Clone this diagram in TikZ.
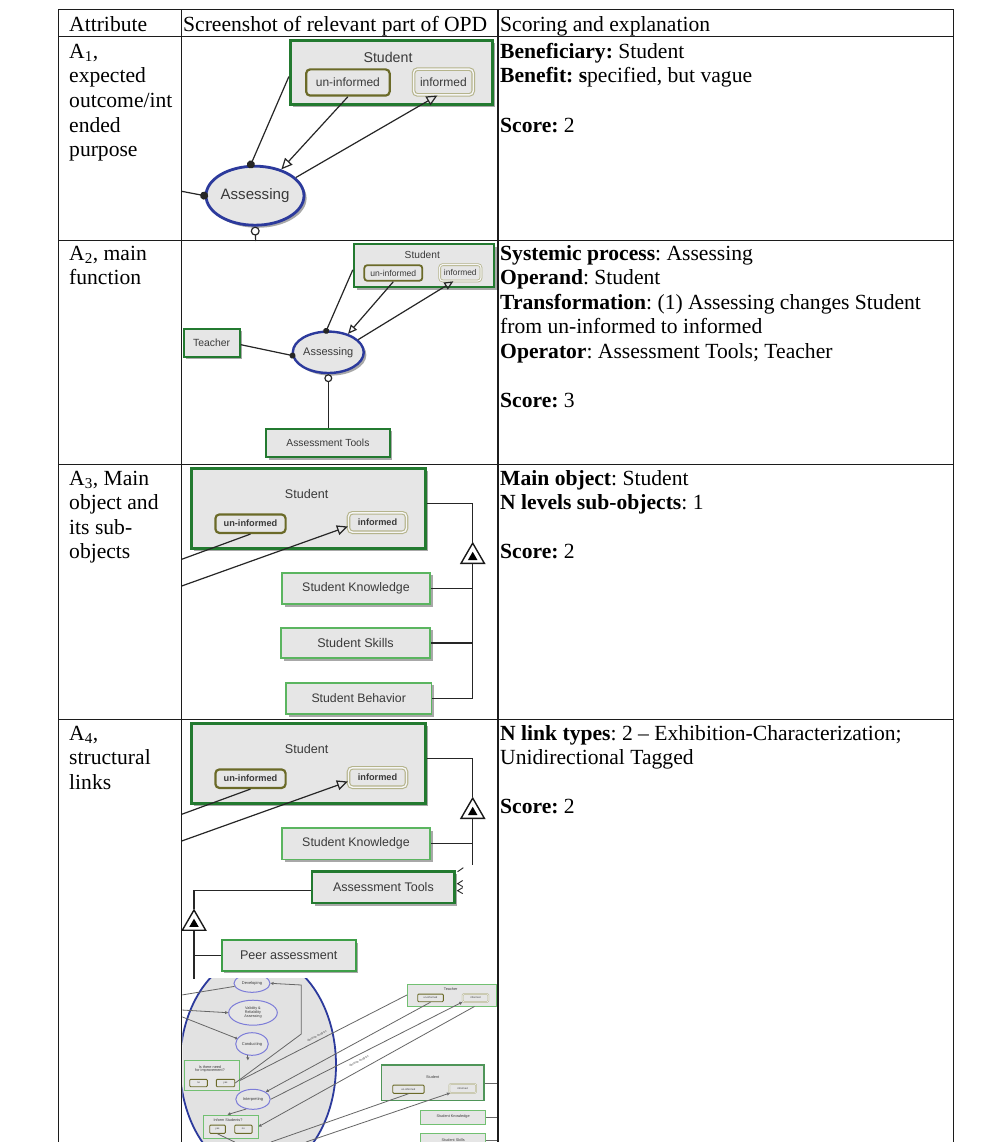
\documentclass[tikz,border=0pt]{standalone}
\usepackage{fontspec}
\setmainfont{Liberation Serif}
\newfontfamily\opdfont{Liberation Sans}
\usetikzlibrary{arrows.meta,shapes.geometric,shadows,calc}
\frenchspacing

\definecolor{objgreen}{HTML}{237A30}
\definecolor{midgreen}{HTML}{3E9E48}
\definecolor{subgreen}{HTML}{5BB560}
\definecolor{minigreen}{HTML}{72C072}
\definecolor{boxgray}{HTML}{E6E6E6}
\definecolor{bigfill}{HTML}{E2E2E2}
\definecolor{procblue}{HTML}{2C3A9C}
\definecolor{miniblue}{HTML}{7C7CD8}
\definecolor{stdark}{HTML}{6B6A28}
\definecolor{stlight}{HTML}{B5B48C}
\definecolor{inkgray}{HTML}{3A3A3A}
\definecolor{rulecol}{HTML}{1C1C1C}

\newcommand\osz[1]{\opdfont\fontsize{#1}{#1}\selectfont}

\tikzset{
  cell/.style={anchor=base west, inner sep=0pt, font=\fontsize{21.6}{24.6}\selectfont},
  rulefmt/.style={draw=rulecol, line width=1.2pt},
  shade box/.style={drop shadow={shadow xshift=2.6pt, shadow yshift=-2.6pt, fill=black!45, opacity=0.75}},
  obj/.style={rectangle, draw=objgreen, line width=2.6pt, fill=boxgray, inner sep=0pt, text=inkgray, shade box},
  midobj/.style={obj, draw=midgreen, line width=2.2pt},
  subobj/.style={obj, draw=subgreen, line width=1.8pt},
  proc/.style={ellipse, draw=procblue, line width=2.8pt, fill=boxgray, inner sep=0pt, text=inkgray, shade box},
  stun/.style={rectangle, rounded corners=4pt, draw=stdark, line width=2.2pt, fill=boxgray, inner sep=0pt, text=inkgray},
  stin/.style={rectangle, rounded corners=4pt, draw=stlight, double=white!60!boxgray, double distance=1.4pt, line width=1.1pt, inner sep=0pt, text=inkgray},
  olabel/.style={inner sep=0pt, text=inkgray},
  link/.style={draw=black!85, line width=1.2pt},
  agent/.style={link, -{Circle[length=8pt]}, shorten >=-3.5pt},
  instr/.style={link, -{Circle[length=9pt, fill=white]}},
  effect/.style={link, -{Triangle[open, length=11pt, width=10pt]}},
  extri/.style={regular polygon, regular polygon sides=3, draw=black!90, line width=1.4pt, fill=white, inner sep=0pt, minimum size=27pt},
  extrin/.style={regular polygon, regular polygon sides=3, fill=black, inner sep=0pt, minimum size=11pt},
  mobj/.style={rectangle, draw=minigreen, line width=0.9pt, fill=boxgray, inner sep=0pt, text=inkgray},
  mproc/.style={ellipse, draw=miniblue, line width=1pt, fill=boxgray, inner sep=0pt, text=inkgray, font=\osz{4}},
  mstun/.style={rectangle, rounded corners=1pt, draw=stdark, line width=0.9pt, fill=boxgray, inner sep=0pt, text=inkgray, font=\osz{2.6}},
  mstin/.style={rectangle, rounded corners=1pt, draw=stlight, double=white!60!boxgray, double distance=0.5pt, line width=0.5pt, inner sep=0pt, text=inkgray, font=\osz{2.6}},
  mlink/.style={draw=black!60, line width=0.8pt},
  mtip/.style={mlink, -{Triangle[open, length=3pt, width=3pt]}},
  mnote/.style={inner sep=0pt, text=inkgray, font=\osz{2.8}, rotate=27},
}

\begin{document}
\begin{tikzpicture}[x=1pt, y=-1pt]
\useasboundingbox (0,0) rectangle (998,1142);
\fill[white] (0,0) rectangle (998,1142);

% ---------- header ----------
\node[cell] (h1) at (69,31.5) {Attribute};
\node[cell] (h2) at (183,31.5) {Screenshot of relevant part of OPD};
\node[cell] (h3) at (500,31.5) {Scoring and explanation};

% ---------- A1 ----------
\node[cell] (a1-1) at (69,58.3) {A\textsubscript{1},};
\node[cell] (a1-2) at (69,82.9) {expected};
\node[cell] (a1-3) at (69,107.5) {outcome/int};
\node[cell] (a1-4) at (69,132.1) {ended};
\node[cell] (a1-5) at (69,156.7) {purpose};
\node[cell] (s1-1) at (500,58.3) {\textbf{Beneficiary:} Student};
\node[cell] (s1-2) at (500,82.9) {\textbf{Benefit: s}pecified, but vague};
\node[cell] (s1-3) at (500,132.1) {\textbf{Score:} 2};

\node[obj, minimum width=202pt, minimum height=64.5pt] (stu1) at (391.2,72.5) {};
\node[olabel, font=\osz{14.2}] (stu1-l) at (388,57) {Student};
\node[stun, minimum width=83.5pt, minimum height=26.2pt, font=\osz{12}] (un1) at (347.9,82.5) {un-informed};
\node[stin, minimum width=59.7pt, minimum height=25.8pt, font=\osz{12}] (inf1) at (443.4,82) {informed};
\node[proc, minimum width=98pt, minimum height=59pt, font=\osz{15.1}] (as1) at (255,195.7) {Assessing};
\coordinate (as1-in) at (181.7,191.3);
\coordinate (as1-out) at (255.7,241);
\draw[agent] ($(stu1.west)+(0,4)$) -- (as1.98);
\draw[effect] (un1.south) -- (as1.45);
\draw[effect] (as1.24) -- ($(inf1.south)+(-6,0)$);
\draw[agent] (as1-in) -- (as1.west);
\draw[instr] (as1-out) -- (as1.south);

% ---------- A2 ----------
\node[cell] (a2-1) at (69,260) {A\textsubscript{2}, main};
\node[cell] (a2-2) at (69,284.6) {function};
\node[cell] (s2-1) at (500,260) {\textbf{Systemic process}: Assessing};
\node[cell] (s2-2) at (500,284.6) {\textbf{Operand}: Student};
\node[cell] (s2-3) at (500,309.2) {\textbf{Transformation}: (1) Assessing changes Student};
\node[cell] (s2-4) at (500,333.8) {from un-informed to informed};
\node[cell] (s2-5) at (500,358.4) {\textbf{Operator}: Assessment Tools; Teacher};
\node[cell] (s2-6) at (500,407.6) {\textbf{Score:} 3};

\node[obj, line width=2.2pt, minimum width=140pt, minimum height=43pt] (stu2) at (423.9,265.8) {};
\node[olabel, font=\osz{10.2}] (stu2-l) at (422.3,255) {Student};
\node[stun, line width=1.8pt, rounded corners=3pt, minimum width=58pt, minimum height=15.6pt, font=\osz{8.6}] (un2) at (393.3,273) {un-informed};
\node[stin, line width=0.8pt, double distance=1.1pt, rounded corners=3pt, minimum width=41.3pt, minimum height=16.3pt, font=\osz{8.4}] (inf2) at (460.3,272.8) {informed};
\node[obj, line width=2.2pt, minimum width=56pt, minimum height=28pt, font=\osz{10.4}] (teach2) at (211.7,342.7) {Teacher};
\node[proc, line width=2.4pt, minimum width=69.6pt, minimum height=41.4pt, font=\osz{11}] (as2) at (328.3,352.3) {Assessing};
\node[obj, line width=2.2pt, minimum width=123.5pt, minimum height=28.4pt, font=\osz{10.3}] (tools2) at (327.9,443) {Assessment Tools};
\draw[agent, -{Circle[length=6pt]}] ($(stu2.west)+(0,4)$) -- (as2.95);
\draw[effect, -{Triangle[open, length=9pt, width=8pt]}] (un2.south) -- (as2.43);
\draw[effect, -{Triangle[open, length=9pt, width=8pt]}] (as2.23) -- ($(inf2.south)+(-7,0)$);
\draw[agent, -{Circle[length=6pt]}] ($(teach2.east)+(0,2)$) -- (as2.185);
\draw[instr, -{Circle[length=8pt, fill=white]}] (as2.south |- tools2.north) -- (as2.south);

% ---------- A3 ----------
\node[cell] (a3-1) at (69,485) {A\textsubscript{3}, Main};
\node[cell] (a3-2) at (69,509.6) {object and};
\node[cell] (a3-3) at (69,534.2) {its sub-};
\node[cell] (a3-4) at (69,558.8) {objects};
\node[cell] (s3-1) at (500,485) {\textbf{Main object}: Student};
\node[cell] (s3-2) at (500,509.6) {\textbf{N levels sub-objects}: 1};
\node[cell] (s3-3) at (500,558.8) {\textbf{Score:} 2};

\node[obj, minimum width=234pt, minimum height=80pt] (stu3) at (308.4,508.7) {};
\node[olabel, font=\osz{12.6}] (stu3-l) at (306.7,494.3) {Student};
\node[stun, minimum width=70.2pt, minimum height=18.5pt, font=\osz{9.2}\bfseries] (un3) at (250.5,523.7) {un-informed};
\node[stin, minimum width=58pt, minimum height=19.4pt, font=\osz{9.2}\bfseries] (inf3) at (377.5,522.5) {informed};
\coordinate (l3a) at (181.7,559.3);
\coordinate (l3b) at (181.7,586);
\draw[link] (l3a) -- (un3.south);
\draw[effect] (l3b) -- ($(inf3.west)+(0,4)$);

\node[subobj, minimum width=148.2pt, minimum height=31.5pt, font=\osz{12.4}] (sk3) at (356,588.4) {Student Knowledge};
\node[subobj, minimum width=149.2pt, minimum height=30.5pt, font=\osz{12.6}] (ss3) at (355.5,642.9) {Student Skills};
\node[subobj, minimum width=145.5pt, minimum height=31.5pt, font=\osz{12.3}] (sb3) at (358.7,698.4) {Student Behavior};

\node[extri] (ex3) at (472.7,556.6) {};
\node[extrin] (ex3i) at (472.7,557.3) {};
\coordinate (ex3b) at (ex3.side 2);
\draw[link] ($(stu3.east)+(0,-5)$) -| (ex3.corner 1);
\draw[link] (ex3b) |- (sb3.east);
\draw[link] (sk3.east) -- (sk3.east -| ex3b);
\draw[link] (ss3.east) -- (ss3.east -| ex3b);

% ---------- A4 ----------
\node[cell] (a4-1) at (69,740) {A\textsubscript{4},};
\node[cell] (a4-2) at (69,764.6) {structural};
\node[cell] (a4-3) at (69,789.2) {links};
\node[cell] (s4-1) at (500,740) {\textbf{N link types}: 2 -- Exhibition-Characterization;};
\node[cell] (s4-2) at (500,764.6) {Unidirectional Tagged};
\node[cell] (s4-3) at (500,813.8) {\textbf{Score:} 2};

\node[obj, minimum width=234pt, minimum height=80pt] (stu4) at (308.4,763.7) {};
\node[olabel, font=\osz{12.6}] (stu4-l) at (306.7,749.3) {Student};
\node[stun, minimum width=70.2pt, minimum height=18.5pt, font=\osz{9.2}\bfseries] (un4) at (250.5,778.7) {un-informed};
\node[stin, minimum width=58pt, minimum height=19.4pt, font=\osz{9.2}\bfseries] (inf4) at (377.5,777.5) {informed};
\coordinate (l4a) at (181.7,814.3);
\coordinate (l4b) at (181.7,841);
\draw[link] (l4a) -- (un4.south);
\draw[effect] (l4b) -- ($(inf4.west)+(0,4)$);

\node[subobj, minimum width=148.2pt, minimum height=31.5pt, font=\osz{12.4}] (sk4) at (356,843.7) {Student Knowledge};
\node[extri] (ex4) at (472.7,811.6) {};
\node[extrin] (ex4i) at (472.7,812.3) {};
\coordinate (ex4b) at (ex4.side 2);
\coordinate (v4end) at (472.7,865);
\draw[link] ($(stu4.east)+(0,-5)$) -| (ex4.corner 1);
\draw[link] (ex4b) -- (v4end);
\draw[link] (sk4.east) -- (sk4.east -| ex4b);

\node[obj, minimum width=142.7pt, minimum height=31.7pt, font=\osz{12.5}] (tools4) at (383.4,887.2) {Assessment Tools};
\draw[link, line width=0.9pt] (463.3,867.7) -- (457.6,871.7);
\draw[link, line width=0.9pt] (462.7,880.5) -- (457.6,883.7) -- (462.7,886.6);
\draw[link, line width=0.9pt] (462.7,887.6) -- (457.6,890.7) -- (462.7,893.6);

\node[extri] (ex5) at (194,923.5) {};
\node[extrin] (ex5i) at (194,924.2) {};
\coordinate (ex5b) at (ex5.side 2);
\coordinate (v5end) at (194,979);
\draw[link] ($(tools4.west)+(0,3.5)$) -| (ex5.corner 1);
\draw[link] (ex5b) -- (v5end);
\node[midobj, minimum width=134pt, minimum height=30.5pt, font=\osz{12.6}] (peer) at (288.7,955.4) {Peer assessment};
\draw[link] (peer.west) -- (peer.west -| ex5b);

% ---------- A4, overview of the assessing process ----------
\begin{scope}
\clip (182.3,978) rectangle (497.4,1142);
\node[ellipse, draw=procblue, line width=1.8pt, fill=bigfill, minimum width=156pt, minimum height=220pt, inner sep=0pt] (bigas) at (258,1065) {};

\node[mproc, minimum width=36pt, minimum height=18pt] (dev) at (252,983.3) {Developing};
\node[mproc, minimum width=48.6pt, minimum height=25pt, align=center, font=\osz{3.8}] (val) at (253,1012.7) {Validity \&\\Reliability\\Assessing};
\node[mproc, minimum width=32.6pt, minimum height=22.6pt] (con) at (252,1044) {Conducting};
\node[mobj, minimum width=55pt, minimum height=29.3pt] (need) at (212.2,1075.4) {};
\node[olabel, align=center, font=\osz{3.8}] (need-l) at (210,1069) {Is there need\\for improvement?};
\node[mstun, minimum width=17.6pt, minimum height=7.4pt] (no1) at (198.5,1083) {no};
\node[mstun, minimum width=18.4pt, minimum height=7.4pt] (yes1) at (225.5,1083) {yes};
\node[mproc, minimum width=34.4pt, minimum height=20pt] (interp) at (253,1099.3) {Interpreting};
\node[mobj, minimum width=55pt, minimum height=23.3pt] (inform) at (230.5,1126.7) {};
\node[olabel, font=\osz{3.8}] (inform-l) at (228,1120.2) {Inform Students?};
\node[mstun, minimum width=15.6pt, minimum height=8.3pt] (yes2) at (217.5,1129.2) {yes};
\node[mstun, minimum width=17.3pt, minimum height=8.3pt] (no2) at (243.4,1129.2) {no};

\node[mobj, minimum width=88.7pt, minimum height=22pt] (teacher) at (451.7,995) {};
\node[olabel, font=\osz{3.8}] (teacher-l) at (450.7,988.8) {Teacher};
\node[mstun, minimum width=25.6pt, minimum height=7.7pt] (tun) at (430.5,997.9) {un-informed};
\node[mstin, minimum width=25.6pt, minimum height=7.7pt] (tin) at (475.5,997.9) {informed};

\node[mobj, draw=objgreen!80, line width=1.3pt, minimum width=102.3pt, minimum height=35.7pt] (student) at (432.9,1082.9) {};
\node[olabel, font=\osz{3.8}] (student-l) at (432.7,1076.7) {Student};
\node[mstun, minimum width=31.3pt, minimum height=8.3pt] (sun) at (408.4,1089.2) {un-informed};
\node[mstin, minimum width=26.7pt, minimum height=8.7pt] (sin) at (462.7,1088.4) {informed};
\node[mobj, minimum width=65pt, minimum height=14pt, font=\osz{3.8}] (skn) at (453.2,1117) {Student Knowledge};
\node[mobj, minimum width=65pt, minimum height=14pt, font=\osz{3.8}] (sks) at (453.2,1140.3) {Student Skills};

\coordinate (m-l1) at (181.7,995);
\coordinate (m-l2) at (181.7,1010);
\coordinate (m-l3) at (181.7,1016.7);
\coordinate (m-c1) at (301.3,985);
\coordinate (m-c2) at (301.3,1034);
\coordinate (m-b1) at (271,1142);
\coordinate (m-b2) at (306,1142);
\coordinate (m-b3) at (234.7,1142);
\coordinate (m-r) at (498,1100);

\draw[mlink] (m-l1) -- (dev.190);
\draw[mtip] (m-l2) -- (val.west);
\draw[mlink, -{Circle[length=2.6pt, fill=white]}] (m-l3) -- (con.160);
\draw[mtip] (yes1.east) -- (m-c2) -- (m-c1) -- (dev.east);
\draw[mtip] (con.250) -- (con.250 |- need.north);
\draw[mtip] (interp.235) -- ($(inform.north)+(-3,0)$);

\draw[mlink] (teacher.west) -- ($(need.east)+(0,5)$);
\draw[mtip] (tun.south) -- (interp.30);
\draw[mtip] (interp.east) -- (tin.south west);
\draw[mtip] ($(teacher.south east)+(-22,0)$) -- (inform.east);
\node[mnote] (note1) at (317,1036.5) {decision analysis};
\node[mnote] (note2) at (359,1061.5) {decision analysis};

\draw[mlink] (sun.south) -- (m-b1);
\draw[mtip] (m-b2) -- (sin.200);
\draw[mlink] (yes2.south) -- (m-b3);
\draw[mlink] (student.east) -- (student.east -| m-r);
\draw[mlink] (skn.east) -- (skn.east -| m-r);
\draw[mlink] (sks.east) -- (sks.east -| m-r);
\end{scope}

% ---------- table rules ----------
\draw[rulefmt] (58.3,9.3) -- (953.3,9.3);
\draw[rulefmt] (58.3,36.3) -- (953.3,36.3);
\draw[rulefmt] (58.3,240.7) -- (953.3,240.7);
\draw[rulefmt] (58.3,464.3) -- (953.3,464.3);
\draw[rulefmt] (58.3,719.3) -- (953.3,719.3);
\draw[rulefmt] (58.3,9.3) -- (58.3,1142);
\draw[rulefmt] (181.7,9.3) -- (181.7,1142);
\draw[rulefmt] (498,9.3) -- (498,1142);
\draw[rulefmt] (953.3,9.3) -- (953.3,1142);
\end{tikzpicture}
\end{document}
